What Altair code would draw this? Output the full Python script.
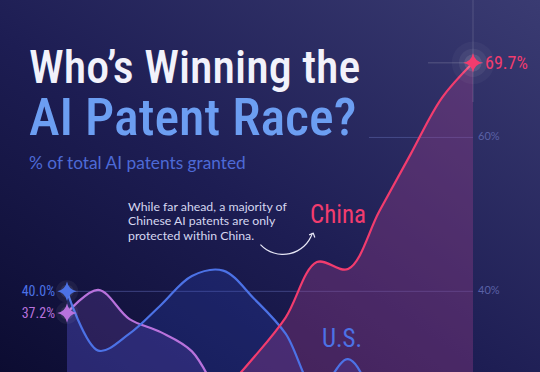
import altair as alt
import pandas as pd

# ---------------- data ----------------
years = list(range(2010, 2024))
china = [18.0, 19.5, 20.5, 21.5, 23.5, 27.0, 31.5, 36.6, 43.8, 42.9, 50.4, 57.8, 65.1, 69.7]
us = [40.0, 32.3, 34.5, 38.2, 42.0, 42.7, 39.0, 34.5, 27.0, 31.2, 25.0, 21.0, 17.5, 14.2]
others = [37.2, 40.2, 36.4, 34.7, 32.2, 25.5, 20.5, 17.0, 13.5, 11.0, 9.5, 8.0, 7.0, 6.5]
series_names = ["China", "U.S.", "Others"]
grid_values = [40, 60]

title_1 = "Who\u2019s Winning the"
title_2 = "AI Patent Race?"
subtitle = "% of total AI patents granted"
note = ["While far ahead, a majority of", "Chinese AI patents are only", "protected within China."]

# ---------------- styling ----------------
W, H = 406, 354
COND = "'Roboto Condensed', 'Liberation Sans Narrow', 'DejaVu Sans Condensed', sans-serif"
SANS = "Lato, 'Noto Sans', sans-serif"
RED, BLUE, PURPLE = "#f23c6e", "#4c72e6", "#b872dc"
STAR = "M0,-1 Q0.16,-0.16 1,0 Q0.16,0.16 0,1 Q-0.16,0.16 -1,0 Q-0.16,-0.16 0,-1 Z"

df = pd.DataFrame({
    "year": years * 3,
    "value": china + us + others,
    "series": sum([[n] * len(years) for n in series_names], []),
})

xs = alt.Scale(domain=[years[0], years[-1]], nice=False, zero=False)
ys = alt.Scale(domain=[29, 75], nice=False, zero=False)
X = alt.X("year:Q", scale=xs, axis=None)
Y = alt.Y("value:Q", scale=ys, axis=None)

one = pd.DataFrame({"a": [0]})
grid_df = pd.DataFrame({"g": grid_values})
grid_df["label"] = grid_df["g"].map(lambda v: f"{v}%")

bg = alt.Chart(one).mark_rect(
    color=alt.LinearGradient(
        gradient="linear",
        stops=[alt.GradientStop(color="#0c0c31", offset=0),
               alt.GradientStop(color="#1d1d53", offset=0.45),
               alt.GradientStop(color="#3a3b72", offset=1)],
        x1=0, y1=1, x2=1, y2=0)
).encode(x=alt.value(-67), x2=alt.value(473), y=alt.value(-22), y2=alt.value(H))

grid40 = alt.Chart(grid_df).transform_filter(alt.datum.g == grid_values[0]).mark_rule(
    color="#3d4180", strokeWidth=1).encode(
    y=alt.Y("g:Q", scale=ys, axis=None), x=alt.value(0), x2=alt.value(W))
grid60 = alt.Chart(grid_df).transform_filter(alt.datum.g == grid_values[1]).mark_rule(
    color="#464b8a", strokeWidth=1).encode(
    y=alt.Y("g:Q", scale=ys, axis=None), x=alt.value(302), x2=alt.value(W))
grid_labels = alt.Chart(grid_df).mark_text(
    align="left", baseline="middle", font=SANS, fontSize=11, color="#5a61a6", dx=5).encode(
    y=alt.Y("g:Q", scale=ys, axis=None), x=alt.value(W), text="label:N")

layers = [bg, grid40, grid60]

styles = [("Others", PURPLE, "#8a55c8", 0.22),
          ("U.S.", BLUE, "#2f4fd0", 0.22),
          ("China", RED, "#a8418f", 0.32)]
for name, lc, ac, aop in styles:
    layers.append(alt.Chart(df).transform_filter(alt.datum.series == name).mark_area(
        interpolate="catmull-rom", color=ac, opacity=aop, clip=True).encode(x=X, y=Y))
for name, lc, ac, aop in styles:
    layers.append(alt.Chart(df).transform_filter(alt.datum.series == name).mark_line(
        interpolate="catmull-rom", color=lc, strokeWidth=2.2, clip=True).encode(x=X, y=Y))
layers.append(grid_labels)

ends = pd.DataFrame({
    "series": ["U.S.", "Others", "China"],
    "year": [years[0], years[0], years[-1]],
    "value": [us[0], others[0], china[-1]],
})
ends["label"] = ends["value"].map(lambda v: f"{v:.1f}%")
cscale = alt.Scale(domain=["China", "U.S.", "Others"], range=[RED, BLUE, PURPLE])

# soft glow and flares around end points
for sz, op in [(1800, 0.035), (800, 0.06), (300, 0.10)]:
    layers.append(alt.Chart(ends).transform_filter(alt.datum.series == "China").mark_point(
        shape="circle", filled=True, color="#ffffff", opacity=op, size=sz).encode(x=X, y=Y))
for sz, op in [(500, 0.05), (180, 0.08)]:
    layers.append(alt.Chart(ends).transform_filter(alt.datum.series != "China").mark_point(
        shape="circle", filled=True, color="#ffffff", opacity=op, size=sz).encode(x=X, y=Y))
layers.append(alt.Chart(one).mark_rule(color="#ffffff", opacity=0.10, strokeWidth=1.5).encode(
    x=alt.value(W), y=alt.value(-22), y2=alt.value(80)))
layers.append(alt.Chart(ends).transform_filter(alt.datum.series == "China").mark_rule(
    color="#ffffff", opacity=0.12, strokeWidth=1.5).encode(
    y=Y, x=alt.value(W - 45), x2=alt.value(W + 10)))

layers.append(alt.Chart(ends).mark_point(shape=STAR, filled=True, opacity=1, size=380).encode(
    x=X, y=Y, color=alt.Color("series:N", scale=cscale, legend=None)))

layers.append(alt.Chart(ends).transform_filter(alt.datum.series != "China").mark_text(
    align="right", baseline="middle", dx=-12, dy=1, font=COND, fontSize=14).encode(
    x=X, y=Y, text="label:N", color=alt.Color("series:N", scale=cscale, legend=None)))
layers.append(alt.Chart(ends).transform_filter(alt.datum.series == "China").mark_text(
    align="left", baseline="middle", dx=12, dy=1, font=COND, fontSize=18).encode(
    x=X, y=Y, text="label:N", color=alt.Color("series:N", scale=cscale, legend=None)))

# series names
layers.append(alt.Chart(one).mark_text(align="center", baseline="alphabetic", font=COND,
    fontSize=25, color=RED).encode(x=alt.value(271), y=alt.value(201), text=alt.value("China")))
layers.append(alt.Chart(one).mark_text(align="center", baseline="alphabetic", font=COND,
    fontSize=25, color=BLUE).encode(x=alt.value(275), y=alt.value(325), text=alt.value("U.S.")))

# titles
layers.append(alt.Chart(one).mark_text(align="left", baseline="alphabetic", font=COND,
    fontSize=46, fontWeight=500, color="#f2f2fb").encode(
    x=alt.value(-38), y=alt.value(61), text=alt.value(title_1)))
layers.append(alt.Chart(one).mark_text(align="left", baseline="alphabetic", font=COND,
    fontSize=52, fontWeight=500, color="#6c9ef2").encode(
    x=alt.value(-38), y=alt.value(113), text=alt.value(title_2)))
layers.append(alt.Chart(one).mark_text(align="left", baseline="alphabetic", font=SANS,
    fontSize=17.3, color="#4d6ad6").encode(
    x=alt.value(-38), y=alt.value(147), text=alt.value(subtitle)))

# annotation
layers.append(alt.Chart(one).mark_text(align="left", baseline="alphabetic", font=SANS,
    fontSize=12.3, lineHeight=14.4, color="#d6d7f0").encode(
    x=alt.value(61), y=alt.value(189), text=alt.value(note)))
layers.append(alt.Chart(one).mark_arc(radius=31.5, radius2=30.3, theta=1.877, theta2=3.96,
    color="#e6e6f5").encode(x=alt.value(216), y=alt.value(201.5)))
layers.append(alt.Chart(one).mark_point(shape="M-1,1 L0,0 L1,1", filled=False, color="#e6e6f5",
    strokeWidth=1.2, size=40, angle=25, opacity=1).encode(x=alt.value(246.3), y=alt.value(211.3)))

chart = alt.layer(*layers).properties(
    width=W, height=H,
    padding={"left": 67, "top": 22, "right": 67, "bottom": 0},
    autosize=alt.AutoSizeParams(type="none"),
    background="#1b1b4d",
).configure_view(stroke=None)

chart.save("out.html", embed_options={"renderer": "svg", "actions": False})
